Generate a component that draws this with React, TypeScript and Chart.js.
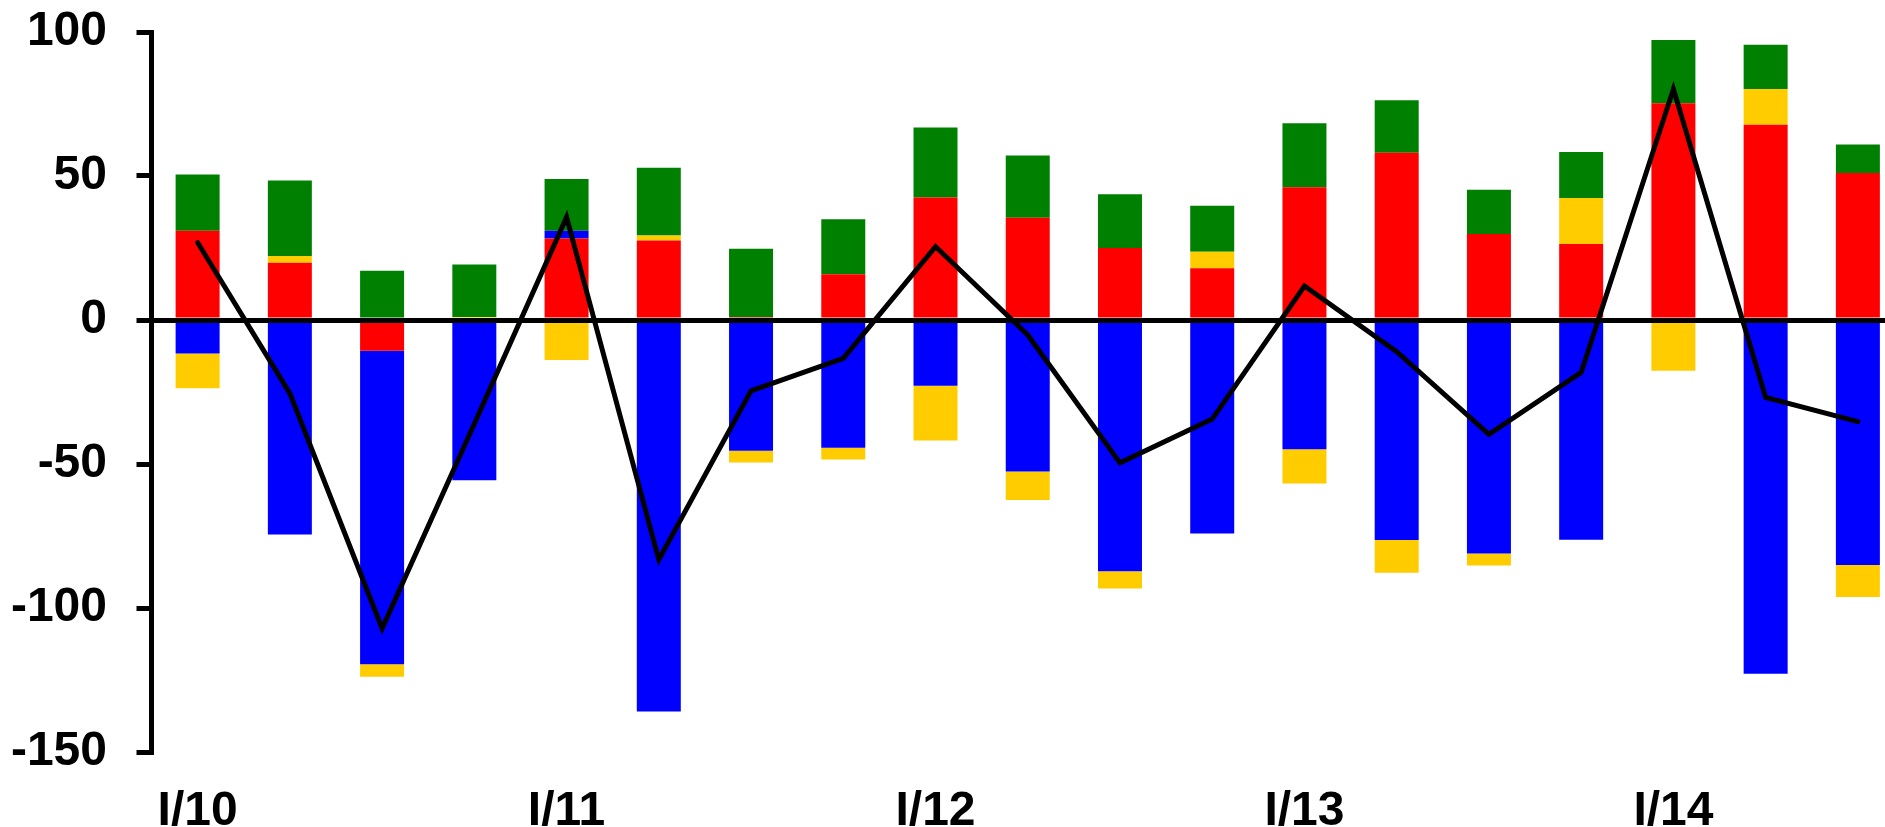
import React, { useEffect, useRef } from 'react';
import { Chart, registerables } from 'chart.js';

Chart.register(...registerables);

const categories = [
  'I/10', 'II/10', 'III/10', 'IV/10',
  'I/11', 'II/11', 'III/11', 'IV/11',
  'I/12', 'II/12', 'III/12', 'IV/12',
  'I/13', 'II/13', 'III/13', 'IV/13',
  'I/14', 'II/14', 'III/14',
];

const redValues = [31.0, 19.9, -10.7, 0, 28.3, 27.6, 1.0, 15.9, 42.5, 35.5, 25.0, 18.0, 46.1, 58.1, 29.9, 26.4, 75.3, 67.8, 51.0];
const blueValues = [-11.6, -74.5, -108.8, -55.6, 2.7, -135.9, -45.4, -44.4, -22.8, -52.6, -87.2, -74.1, -44.9, -76.4, -81.1, -76.3, 0, -122.8, -85.1];
const yellowValues = [-12.1, 2.3, -4.4, 1.0, -13.9, 1.7, -4.1, -4.0, -19.0, -9.9, -6.0, 5.7, -11.9, -11.4, -4.1, 16.0, -17.6, 12.4, -11.1];
const greenValues = [19.5, 26.2, 17.1, 18.3, 18.0, 23.6, 23.7, 19.1, 24.3, 21.6, 18.7, 16.0, 22.2, 18.2, 15.3, 15.9, 21.9, 15.4, 9.9];
const lineValues = [26.9, -25.5, -107.1, -36.0, 35.7, -83.2, -24.6, -13.3, 25.5, -5.2, -49.6, -34.4, 11.8, -11.0, -39.7, -18.2, 80.2, -26.9, -35.3];

const yMin = -150;
const yMax = 100;
const yStep = 50;

export default function App() {
  const ref = useRef<HTMLCanvasElement>(null);

  useEffect(() => {
    const font = { family: "'Liberation Sans', Arial, sans-serif", weight: 'bold' as const, size: 48 };
    const barCommon = {
      type: 'bar' as const,
      barPercentage: 0.477,
      categoryPercentage: 1,
      borderWidth: 0,
      order: 1,
      stack: 'bars',
    };
    const chart = new Chart(ref.current!, {
      type: 'bar',
      data: {
        labels: categories,
        datasets: [
          { ...barCommon, label: 'red', data: redValues, backgroundColor: '#FF0000' },
          { ...barCommon, label: 'blue', data: blueValues, backgroundColor: '#0000FF' },
          { ...barCommon, label: 'yellow', data: yellowValues, backgroundColor: '#FFCC00' },
          { ...barCommon, label: 'green', data: greenValues, backgroundColor: '#008000' },
          {
            type: 'line' as const,
            label: 'total',
            data: lineValues,
            borderColor: '#000000',
            backgroundColor: '#000000',
            borderWidth: 5,
            pointRadius: 0,
            tension: 0,
            fill: false,
            borderCapStyle: 'round',
            borderJoinStyle: 'miter',
            order: 0,
            stack: 'line',
          } as any,
        ],
      },
      options: {
        responsive: false,
        animation: false,
        devicePixelRatio: 1,
        layout: { padding: { top: 32, right: 0, left: 0, bottom: 0 } },
        plugins: { legend: { display: false }, tooltip: { enabled: false } },
        scales: {
          x: {
            stacked: true,
            grid: { display: false },
            border: { display: false },
            ticks: {
              autoSkip: false,
              maxRotation: 0,
              minRotation: 0,
              padding: 23,
              color: '#000000',
              font,
              callback: (_v: any, i: number) => (categories[i].startsWith('I/') ? categories[i] : ''),
            },
            afterFit: (s: any) => {
              s.height = 75;
              s.paddingLeft = 0;
              s.paddingRight = 0;
            },
          },
          y: {
            stacked: true,
            min: yMin,
            max: yMax,
            ticks: { stepSize: yStep, padding: 29.5, color: '#000000', font },
            grid: {
              z: 1,
              color: (ctx: any) => (ctx.tick && ctx.tick.value === 0 ? '#000000' : 'rgba(0,0,0,0)'),
              lineWidth: 5,
              drawTicks: true,
              tickLength: 15,
              tickWidth: 5,
              tickColor: '#000000',
            },
            border: { display: true, color: '#000000', width: 5, z: 1 },
            afterFit: (s: any) => {
              s.width = 151.5;
              s.paddingTop = 0;
              s.paddingBottom = 0;
            },
          },
        },
      } as any,
    });
    return () => chart.destroy();
  }, []);

  return (
    <div
      style={{
        position: 'fixed',
        left: 0,
        top: 0,
        width: 1885,
        height: 827,
        overflow: 'hidden',
        background: '#ffffff',
      }}
    >
      <canvas ref={ref} width={1904} height={827} style={{ display: 'block', width: 1904, height: 827 }} />
    </div>
  );
}
